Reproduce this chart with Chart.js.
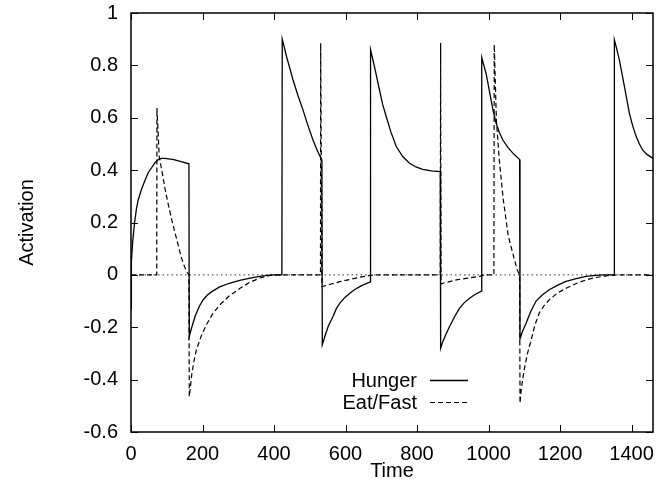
<!DOCTYPE html>
<html>
<head>
<meta charset="utf-8">
<script src="https://cdn.jsdelivr.net/npm/chart.js@4/dist/chart.umd.min.js"></script>
<style>
  html, body { margin: 0; padding: 0; background: #fff; }
  #wrap { width: 656px; height: 485px; }
</style>
</head>
<body>
<div id="wrap"><canvas id="chart" width="656" height="485"></canvas></div>
<script>
const xTicks = [0, 200, 400, 600, 800, 1000, 1200, 1400];
const yTicks = [-0.6, -0.4, -0.2, 0, 0.2, 0.4, 0.6, 0.8, 1];

const hungerT = [0, 1, 5, 10, 15, 20, 29, 39, 48, 58, 67, 76, 85, 95, 120, 140, 162,
  163, 170, 180, 192, 202, 213, 225, 248, 275, 304, 330, 360, 380, 400,
  422, 423, 429, 435, 444, 453, 467, 481, 495, 509, 521, 534,
  535, 539, 542, 552, 565, 574, 584, 597, 612, 626, 640, 655, 669,
  670, 675, 681, 688, 695, 704, 714, 727, 742, 760, 779, 797, 816, 840, 865,
  866, 872, 880, 891, 905, 919, 933, 947, 962, 980,
  981, 987, 993, 1000, 1007, 1014, 1021, 1030, 1040, 1054, 1068, 1087,
  1088, 1095, 1105, 1118, 1133, 1150, 1170, 1192, 1217, 1245, 1273, 1300, 1320, 1351,
  1352, 1359, 1366, 1373, 1380, 1387, 1394, 1403, 1413, 1422, 1431, 1443, 1460];
const hungerV = [-0.13, 0.05, 0.13, 0.2, 0.25, 0.286, 0.325, 0.36, 0.39, 0.41, 0.428, 0.44, 0.445, 0.445, 0.44, 0.432, 0.424,
  -0.235, -0.2, -0.155, -0.118, -0.095, -0.078, -0.065, -0.046, -0.032, -0.021, -0.013, -0.006, -0.002, 0,
  0, 0.9, 0.868, 0.834, 0.79, 0.745, 0.685, 0.63, 0.57, 0.515, 0.475, 0.438,
  -0.267, -0.25, -0.235, -0.195, -0.159, -0.13, -0.108, -0.088, -0.07, -0.056, -0.045, -0.035, -0.027,
  0.86, 0.83, 0.795, 0.75, 0.706, 0.65, 0.604, 0.545, 0.49, 0.452, 0.426, 0.412, 0.403, 0.397, 0.394,
  -0.28, -0.255, -0.23, -0.197, -0.16, -0.127, -0.105, -0.089, -0.075, -0.062,
  0.83, 0.8, 0.77, 0.72, 0.668, 0.62, 0.58, 0.545, 0.515, 0.487, 0.465, 0.44,
  -0.245, -0.215, -0.185, -0.14, -0.1, -0.077, -0.057, -0.04, -0.025, -0.014, -0.006, -0.002, 0, 0,
  0.897, 0.86, 0.82, 0.77, 0.72, 0.668, 0.617, 0.57, 0.528, 0.5, 0.477, 0.46, 0.445];

const eatT = [0, 72, 72.5, 76, 79, 86, 95, 104, 114, 127, 140, 150, 157, 162,
  163, 166, 170, 176, 183, 196, 211, 228, 248, 275, 304, 330, 360, 385, 400,
  530, 530.5, 534, 547, 560, 584, 640, 670, 680,
  865, 866, 867, 872, 910, 975, 990,
  1015, 1016, 1022, 1030, 1041, 1055, 1069, 1080, 1087,
  1088, 1092, 1100, 1109, 1119, 1130, 1142, 1155, 1170, 1192, 1217, 1245, 1273, 1300, 1329, 1360, 1460];
const eatV = [0, 0, 0.637, 0.54, 0.45, 0.4, 0.33, 0.27, 0.21, 0.14, 0.07, 0.03, 0.01, 0,
  -0.465, -0.43, -0.38, -0.33, -0.286, -0.235, -0.19, -0.15, -0.115, -0.08, -0.052, -0.03, -0.012, -0.003, 0,
  0, 0.885, -0.045, -0.04, -0.035, -0.026, -0.009, -0.002, 0,
  0, 0.885, -0.035, -0.032, -0.019, -0.006, 0,
  0, 0.88, 0.59, 0.44, 0.29, 0.15, 0.076, 0.02, 0,
  -0.49, -0.43, -0.36, -0.3, -0.25, -0.19, -0.146, -0.118, -0.095, -0.07, -0.051, -0.033, -0.019, -0.01, -0.004, 0, 0];

const zeroT = [0, 1460];
const zeroV = [0, 0];

const toPts = (ts, vs) => ts.map((t, i) => ({ x: t, y: vs[i] }));
const FONT = "'Liberation Sans', Arial, Helvetica, sans-serif";

// gnuplot style frame, inward ticks on all four sides, and the legend
const framePlugin = {
  id: "frame",
  afterDatasetsDraw(chart) {
    const { ctx, chartArea: a, scales } = chart;
    const tl = 7;
    ctx.save();
    ctx.strokeStyle = "#000";
    ctx.lineWidth = 1;
    ctx.beginPath();
    xTicks.forEach((v) => {
      const px = Math.round(scales.x.getPixelForValue(v)) + 0.5;
      ctx.moveTo(px, a.bottom); ctx.lineTo(px, a.bottom - tl);
      ctx.moveTo(px, a.top); ctx.lineTo(px, a.top + tl);
    });
    yTicks.forEach((v) => {
      const py = Math.round(scales.y.getPixelForValue(v)) + 0.5;
      ctx.moveTo(a.left, py); ctx.lineTo(a.left + tl, py);
      ctx.moveTo(a.right, py); ctx.lineTo(a.right - tl, py);
    });
    ctx.stroke();
    ctx.lineWidth = 1.5;
    ctx.strokeRect(a.left, a.top, a.right - a.left, a.bottom - a.top);

    // legend
    ctx.font = "20px " + FONT;
    ctx.fillStyle = "#000";
    ctx.textAlign = "right";
    ctx.textBaseline = "middle";
    const rows = [
      { ds: chart.data.datasets[0], y: 380 },
      { ds: chart.data.datasets[1], y: 402 },
    ];
    rows.forEach((r) => {
      ctx.fillText(r.ds.label, 417, r.y + 1);
      ctx.beginPath();
      ctx.lineWidth = r.ds.borderWidth;
      ctx.setLineDash(r.ds.borderDash || []);
      ctx.moveTo(430, r.y + 0.5);
      ctx.lineTo(468, r.y + 0.5);
      ctx.stroke();
    });
    ctx.restore();
  },
};

const noPad = (s) => { s.paddingTop = 0; s.paddingBottom = 0; s.paddingLeft = 0; s.paddingRight = 0; };

new Chart(document.getElementById("chart"), {
  type: "line",
  data: {
    datasets: [
      {
        label: "Hunger",
        data: toPts(hungerT, hungerV),
        borderColor: "#000",
        borderWidth: 1.3,
        pointRadius: 0,
        tension: 0,
      },
      {
        label: "Eat/Fast",
        data: toPts(eatT, eatV),
        borderColor: "#000",
        borderWidth: 1.2,
        borderDash: [5, 3],
        pointRadius: 0,
        tension: 0,
      },
      {
        label: "zero",
        data: toPts(zeroT, zeroV),
        borderColor: "#333",
        borderWidth: 1,
        borderDash: [1.5, 3],
        pointRadius: 0,
      },
    ],
  },
  options: {
    animation: false,
    responsive: false,
    devicePixelRatio: 1,
    layout: { padding: { top: 13, right: 3, left: 0, bottom: 0 } },
    plugins: { legend: { display: false }, tooltip: { enabled: false } },
    scales: {
      x: {
        type: "linear",
        min: 0,
        max: 1460,
        afterBuildTicks: (s) => { s.ticks = xTicks.map((v) => ({ value: v })); },
        afterFit: (s) => { s.height = 53; noPad(s); },
        grid: { display: false, drawTicks: false },
        border: { display: false },
        ticks: { color: "#000", font: { size: 20, family: FONT }, padding: 10, maxRotation: 0, callback: (v) => String(v) },
        title: { display: true, text: "Time", color: "#000", font: { size: 20, family: FONT }, padding: { top: 2, bottom: 2 } },
      },
      y: {
        min: -0.6,
        max: 1,
        afterBuildTicks: (s) => { s.ticks = yTicks.map((v) => ({ value: v })); },
        afterFit: (s) => { s.width = 131; noPad(s); },
        grid: { display: false, drawTicks: false },
        border: { display: false },
        ticks: { color: "#000", font: { size: 20, family: FONT }, padding: 13, callback: (v) => String(v) },
        title: { display: true, text: "Activation", color: "#000", font: { size: 20, family: FONT }, padding: { top: 15, bottom: 15 } },
      },
    },
  },
  plugins: [framePlugin],
});
</script>
</body>
</html>
